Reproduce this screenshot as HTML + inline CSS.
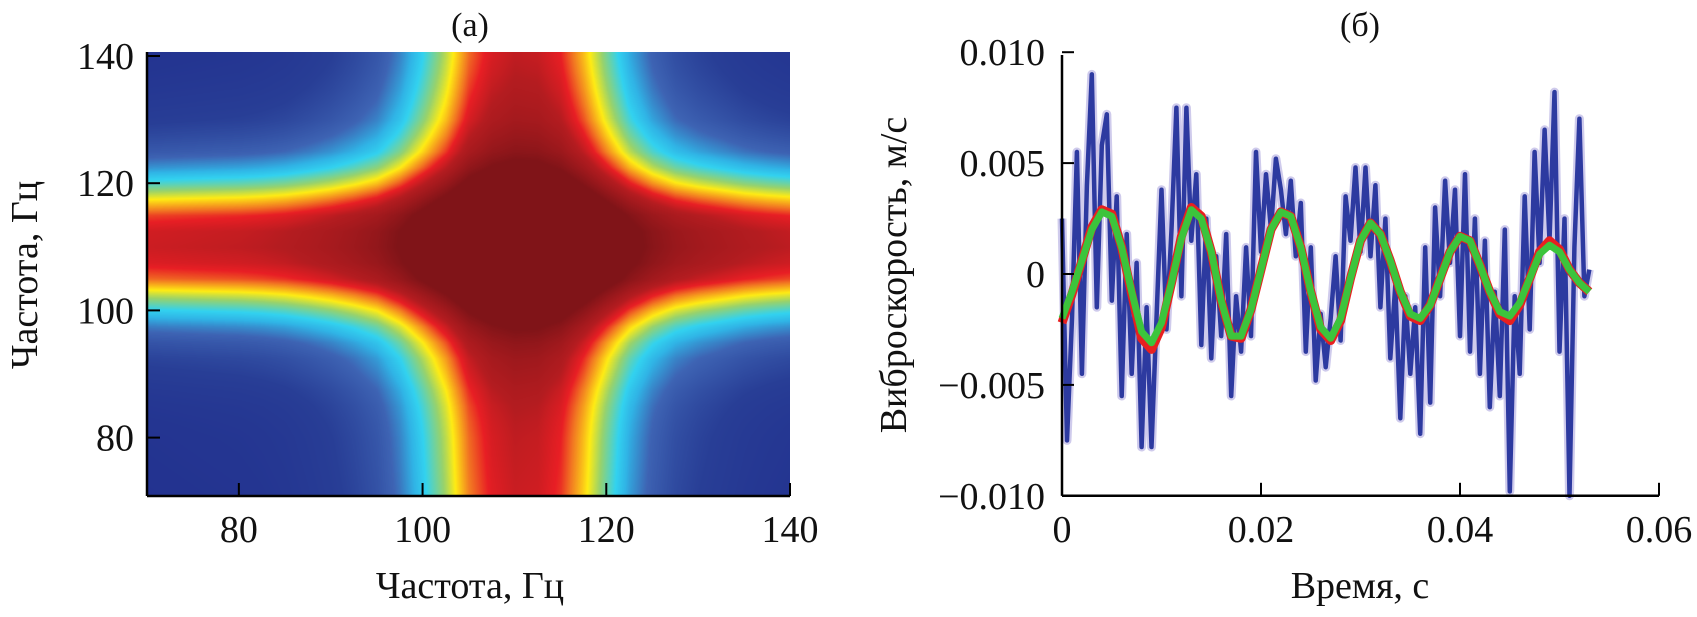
<!DOCTYPE html>
<html><head><meta charset="utf-8"><style>
html,body{margin:0;padding:0;background:#fff;}
#wrap{position:relative;width:1697px;height:617px;overflow:hidden;font-family:"Liberation Serif",serif;}
#heat{position:absolute;left:147px;top:52px;}
svg{position:absolute;left:0;top:0;}
text{font-family:"Liberation Serif",serif;fill:#111;}
</style></head><body>
<div id="wrap">
<canvas id="heat" width="643" height="444"></canvas>
<svg id="svg" width="1697" height="617"></svg>
</div>
<script>
// ---- Panel (a) data: band intensity profiles sampled every 2.5 Hz from 70 to 140
const heatHz = [70,72.5,75,77.5,80,82.5,85,87.5,90,92.5,95,97.5,100,102.5,105,107.5,110,112.5,115,117.5,120,122.5,125,127.5,130,132.5,135,137.5,140];
const colProfile = [.03,.035,.04,.045,.05,.06,.075,.10,.13,.17,.22,.31,.43,.56,.72,.81,.85,.84,.78,.65,.50,.36,.26,.19,.15,.12,.09,.07,.055];
const rowProfile = [.03,.035,.04,.045,.05,.06,.075,.10,.135,.17,.23,.32,.44,.58,.74,.82,.85,.84,.77,.63,.48,.35,.25,.19,.14,.11,.085,.065,.05];
const aTicks = [80,100,120,140];
// ---- Panel (б) data
const greenT0 = 0, greenDt = 0.001;
const greenValues = [-0.0020,-0.0008,0.0006,0.0020,0.0028,0.0026,0.0012,-0.0008,-0.0026,-0.0031,-0.0022,-0.0004,0.0016,0.0029,0.0025,0.0010,-0.0012,-0.0028,-0.0028,-0.0016,0.0002,0.0020,0.0028,0.0026,0.0012,-0.0008,-0.0024,-0.0029,-0.0020,-0.0002,0.0015,0.0023,0.0018,0.0006,-0.0008,-0.0018,-0.0020,-0.0014,-0.0002,0.0010,0.0017,0.0015,0.0004,-0.0008,-0.0017,-0.0019,-0.0013,-0.0002,0.0009,0.0013,0.0010,0.0002,-0.0004,-0.0008];
const redValues = [-0.0022,-0.0009,0.0006,0.0021,0.0029,0.0027,0.0012,-0.0009,-0.0029,-0.0034,-0.0024,-0.0004,0.0017,0.0030,0.0026,0.0010,-0.0012,-0.0028,-0.0029,-0.0016,0.0002,0.0020,0.0028,0.0026,0.0012,-0.0008,-0.0025,-0.0030,-0.0021,-0.0002,0.0015,0.0023,0.0018,0.0006,-0.0008,-0.0019,-0.0021,-0.0014,-0.0002,0.0010,0.0017,0.0015,0.0004,-0.0008,-0.0018,-0.0021,-0.0014,-0.0002,0.0010,0.0015,0.0011,0.0002,-0.0004,-0.0008];
const blueDt = 0.0005;
const blueValues = [0.0025,-0.0075,-0.002,0.0055,-0.0045,0.004,0.009,-0.0015,0.0058,0.0072,-0.0012,0.0035,-0.0055,0.0018,-0.0045,0.0005,-0.0078,-0.0015,-0.0078,-0.002,0.0038,-0.0025,0.002,0.0075,-0.001,0.0075,0.0015,0.0045,-0.0032,0.0025,-0.0038,0.0008,-0.0028,0.0018,-0.0055,-0.001,-0.0035,0.0012,-0.0028,0.0055,0.001,0.0045,0.002,0.0052,0.0038,0.0018,0.0042,0.0008,0.0032,-0.0035,0.0012,-0.0048,-0.0018,-0.0042,-0.002,0.0008,-0.003,0.0035,0.0015,0.0048,0.001,0.0048,0.0008,0.004,-0.0015,0.0025,-0.0038,-0.0005,-0.0065,-0.001,-0.0045,-0.0015,-0.0072,0.0012,-0.0058,0.003,-0.001,0.0042,0.0005,0.0038,-0.0028,0.0045,-0.0035,0.0025,-0.0045,0.0015,-0.006,-0.0008,-0.0055,0.002,-0.0098,-0.001,-0.0045,0.0035,-0.0025,0.0055,0.0005,0.0065,0.0015,0.0082,-0.0035,0.0025,-0.01,0.0012,0.007,-0.001,0.0002];
const bXTicks = [0,0.02,0.04,0.06];
const bXLabels = ["0","0.02","0.04","0.06"];
const bYTicks = [0.010,0.005,0,-0.005,-0.010];
const bYLabels = ["0.010","0.005","0","\u22120.005","\u22120.010"];

// scales
const axL=147, axR=790, ayT=52, ayB=496;
const xA = v => axL + (v-70)*(axR-axL)/70;
const yA = v => 56 + (140-v)*6.36;
const xB = v => 1062 + v*9950;
const yB = v => 274 - v*22180;

// heatmap
function interp(arr, hz){
  const f=(hz-70)/2.5; const i=Math.max(0,Math.min(arr.length-2,Math.floor(f))); const t=Math.max(0,Math.min(1,f-i));
  return arr[i]*(1-t)+arr[i+1]*t;
}
const cmap=[[0,[32,44,140]],[0.18,[40,62,150]],[0.32,[62,100,180]],[0.42,[48,180,230]],[0.48,[50,210,240]],[0.58,[150,210,110]],[0.66,[255,236,20]],[0.76,[242,120,34]],[0.83,[232,30,36]],[0.92,[180,28,32]],[1.15,[128,20,24]],[2,[128,20,24]]];
function col(v){
  for(let k=1;k<cmap.length;k++){ if(v<=cmap[k][0]){const a=cmap[k-1],b=cmap[k];const t=(v-a[0])/(b[0]-a[0]);return [0,1,2].map(j=>a[1][j]+(b[1][j]-a[1][j])*t);} }
  return cmap[cmap.length-1][1];
}
(function(){
  const c=document.getElementById('heat'),ctx=c.getContext('2d');
  const W=c.width,H=c.height,img=ctx.createImageData(W,H);
  for(let py=0;py<H;py++){
    const hy=140-((py+ayT)-56)/6.36; const b=interp(rowProfile,hy);
    for(let px=0;px<W;px++){
      const hx=70+px*70/(axR-axL); const a=interp(colProfile,hx);
      const v=a+b; const cc=col(v); const o=(py*W+px)*4;
      img.data[o]=cc[0];img.data[o+1]=cc[1];img.data[o+2]=cc[2];img.data[o+3]=255;
    }
  }
  ctx.putImageData(img,0,0);
})();

const NS='http://www.w3.org/2000/svg', svg=document.getElementById('svg');
function mk(tag,attrs,parent){const e=document.createElementNS(NS,tag);for(const k in attrs)e.setAttribute(k,attrs[k]);(parent||svg).appendChild(e);return e;}
function txt(s,attrs){const e=mk('text',attrs);e.textContent=s;return e;}

// ---- Panel (a) axes
let e;
e=mk('line',{x1:axL,y1:ayT,x2:axL,y2:ayB,stroke:'#000','stroke-width':2.5});


e=mk('line',{x1:axL,y1:ayB,x2:axR,y2:ayB,stroke:'#000','stroke-width':2.5});


aTicks.forEach(v=>{
  let t=mk('line',{x1:xA(v),y1:ayB,x2:xA(v),y2:ayB-13,stroke:'#000','stroke-width':2});
  
  
  let l=txt(String(v),{x:xA(v),y:542,'font-size':38,'text-anchor':'middle'});
  
  
  t=mk('line',{x1:axL,y1:yA(v),x2:axL+13,y2:yA(v),stroke:'#000','stroke-width':2});
  
  
  l=txt(String(v),{x:134,y:yA(v)+13,'font-size':38,'text-anchor':'end'});
  
  
});
e=txt('(a)',{x:470,y:36,'font-size':34,'text-anchor':'middle'});


e=txt('Частота, Гц',{x:470,y:598,'font-size':38,'text-anchor':'middle'});


e=txt('Частота, Гц',{x:0,y:0,'font-size':38,'text-anchor':'middle',transform:'translate(37,275) rotate(-90)'});



// ---- Panel (б)
const gB=mk('g',{});


let pts=blueValues.map((v,i)=>xB(i*blueDt).toFixed(1)+','+yB(v).toFixed(1)).join(' ');
e=mk('polyline',{points:pts,fill:'none',stroke:'#cfcbec','stroke-width':9,'stroke-linejoin':'round'},gB);


e=mk('polyline',{points:pts,fill:'none',stroke:'#2d3aa0','stroke-width':4.5,'stroke-linejoin':'round'},gB);


pts=redValues.map((v,i)=>xB(greenT0+i*greenDt).toFixed(1)+','+yB(v).toFixed(1)).join(' ');
e=mk('polyline',{points:pts,fill:'none',stroke:'#e82020','stroke-width':9,'stroke-linejoin':'round'},gB);


pts=greenValues.map((v,i)=>xB(greenT0+i*greenDt).toFixed(1)+','+yB(v).toFixed(1)).join(' ');
e=mk('polyline',{points:pts,fill:'none',stroke:'#3cc43c','stroke-width':7,'stroke-linejoin':'round'},gB);



e=mk('line',{x1:1062,y1:55,x2:1062,y2:yB(-0.010),stroke:'#000','stroke-width':2.5});


e=mk('line',{x1:1062,y1:yB(-0.010),x2:xB(0.06),y2:yB(-0.010),stroke:'#000','stroke-width':2.5});


bXTicks.forEach((v,i)=>{
  const t=mk('line',{x1:xB(v),y1:yB(-0.010),x2:xB(v),y2:yB(-0.010)-13,stroke:'#000','stroke-width':2});
  
  
  const l=txt(bXLabels[i],{x:xB(v),y:542,'font-size':38,'text-anchor':'middle'});
  
  
});
bYTicks.forEach((v,i)=>{
  const t=mk('line',{x1:1062,y1:yB(v),x2:1074,y2:yB(v),stroke:'#000','stroke-width':2});
  
  
  const l=txt(bYLabels[i],{x:1045,y:yB(v)+13,'font-size':38,'text-anchor':'end'});
  
  
});
e=txt('(б)',{x:1360,y:36,'font-size':34,'text-anchor':'middle'});


e=txt('Время, с',{x:1360,y:598,'font-size':38,'text-anchor':'middle'});


e=txt('Виброскорость, м/с',{x:0,y:0,'font-size':38,'text-anchor':'middle',transform:'translate(906,275) rotate(-90)'});


</script>
</body></html>
